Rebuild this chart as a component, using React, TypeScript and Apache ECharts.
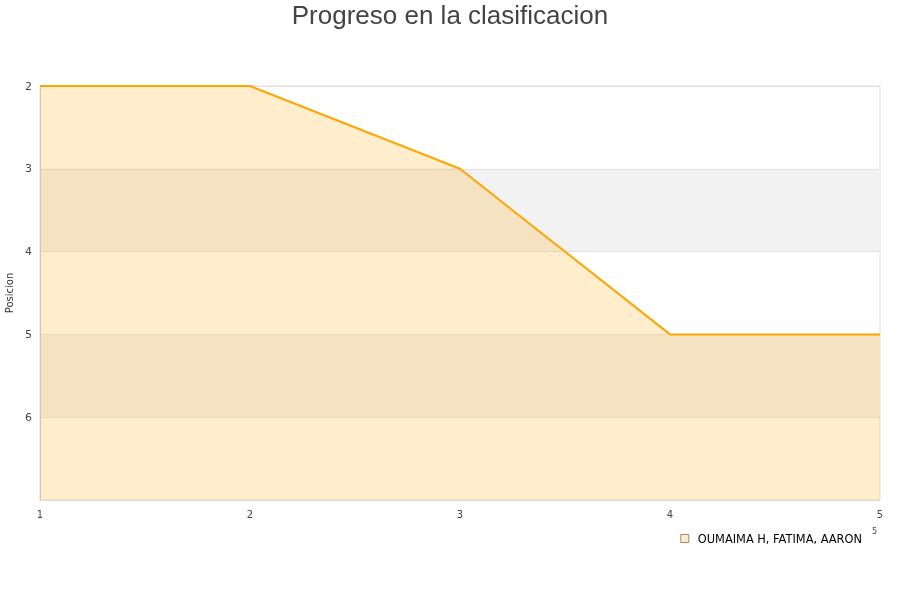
import { useEffect, useRef } from "react";
import * as echarts from "echarts";

const rounds = ["1", "2", "3", "4", "5"];
const positions = [2, 2, 3, 5, 5];
const seriesName = "OUMAIMA H, FATIMA, AARON";
const yTicks = [2, 3, 4, 5, 6, 7];

export default function App() {
  const ref = useRef<HTMLDivElement>(null);
  useEffect(() => {
    if (!ref.current) return;
    const chart = echarts.init(ref.current, undefined, { renderer: "svg" });
    chart.setOption({
      animation: false,
      title: {
        text: "Progreso en la clasificacion",
        left: "center",
        top: -3,
        textStyle: { fontFamily: "Liberation Sans", fontSize: 26, fontWeight: "normal", color: "#444" },
      },
      grid: {
        left: 40,
        right: 20,
        top: 86,
        bottom: 100,
        containLabel: false,
        outerBoundsMode: "none",
        show: true,
        borderColor: "#ddd",
        borderWidth: 1,
      },
      legend: {
        right: 33,
        top: 528,
        icon: "rect",
        itemWidth: 8,
        itemHeight: 8,
        itemStyle: { color: "#ffebc9", borderColor: "#8a7050", borderWidth: 0.8 },
        textStyle: { fontFamily: "DejaVu Sans", fontSize: 11.4, color: "#000", padding: [0, 0, 0, 4] },
        data: [seriesName],
      },
      xAxis: {
        type: "category",
        data: rounds,
        boundaryGap: false,
        axisLine: { lineStyle: { color: "#ddd" } },
        axisTick: { show: false },
        axisLabel: { fontFamily: "DejaVu Sans", fontSize: 10, color: "#444", margin: 9 },
      },
      yAxis: {
        type: "value",
        inverse: true,
        min: yTicks[0],
        max: yTicks[yTicks.length - 1],
        interval: 1,
        name: "Posicion",
        nameLocation: "middle",
        nameGap: 25,
        nameTextStyle: { fontFamily: "DejaVu Sans", fontSize: 10, color: "#333" },
        axisLine: { show: true, lineStyle: { color: "#ccc" } },
        axisTick: { show: false },
        axisLabel: {
          fontFamily: "DejaVu Sans",
          fontSize: 11,
          color: "#444",
          margin: 8,
          formatter: (v: number) => (v === 7 ? "" : String(v)),
        },
        splitLine: { lineStyle: { color: "#e2e2e2" } },
        splitArea: { show: true, areaStyle: { color: ["rgba(255,255,255,0)", "#f2f2f2"] } },
      },
      series: [
        {
          name: seriesName,
          type: "line",
          data: positions,
          symbol: "none",
          lineStyle: { color: "#ffa500", width: 2 },
          areaStyle: { color: "rgba(255,165,0,0.2)", opacity: 1, origin: "end" },
        },
      ],
      graphic: [
        {
          type: "text",
          left: 872,
          top: 527,
          style: { text: "5", fontFamily: "DejaVu Sans", fontSize: 8, fill: "#444" },
        },
      ],
    });
    return () => chart.dispose();
  }, []);
  return (
    <div
      ref={ref}
      style={{ position: "fixed", left: 0, top: 0, width: 900, height: 600 }}
    />
  );
}
